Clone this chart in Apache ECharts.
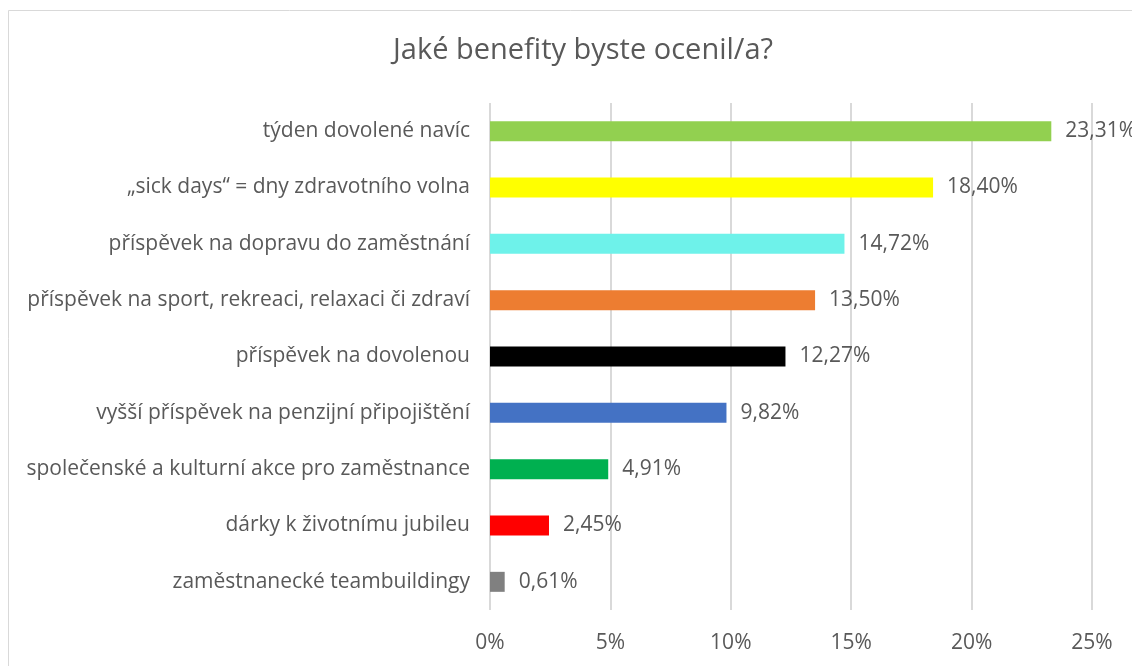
<!DOCTYPE html>
<html>
<head>
<meta charset="utf-8">
<script src="https://cdn.jsdelivr.net/npm/echarts@6/dist/echarts.min.js"></script>
<style>
  html, body { margin: 0; padding: 0; background: #fff; }
  #chart { width: 1132px; height: 666px; }
</style>
</head>
<body>
<div id="chart"></div>
<script>
var categories = [
  'týden dovolené navíc',
  '„sick days“ = dny zdravotního volna',
  'příspěvek na dopravu do zaměstnání',
  'příspěvek na sport, rekreaci, relaxaci či zdraví',
  'příspěvek na dovolenou',
  'vyšší příspěvek na penzijní připojištění',
  'společenské a kulturní akce pro zaměstnance',
  'dárky k životnímu jubileu',
  'zaměstnanecké teambuildingy'
];
var values = [23.31, 18.40, 14.72, 13.50, 12.27, 9.82, 4.91, 2.45, 0.61];
var barColors = ['#92D050', '#FFFF00', '#6EF2EA', '#ED7D31', '#000000', '#4472C4', '#00B050', '#FF0000', '#808080'];
var ticks = [0, 5, 10, 15, 20, 25];

var myChart = echarts.init(document.getElementById('chart'));

var fontFam = '"Open Sans", "DejaVu Sans", sans-serif';

var option = {
  backgroundColor: '#fff',
  animation: false,
  graphic: [{
    type: 'rect',
    shape: { x: 8.5, y: 10.5, width: 1140, height: 700 },
    style: { fill: 'none', stroke: '#d9d9d9', lineWidth: 1 }
  }],
  title: {
    text: 'Jaké benefity byste ocenil/a?',
    left: 388,
    top: 31,
    textStyle: { color: '#595959', fontSize: 29, fontWeight: 'normal', fontFamily: fontFam }
  },
  grid: { left: 490, right: 40, top: 103, bottom: 56, containLabel: false },
  xAxis: {
    type: 'value',
    min: ticks[0],
    max: ticks[ticks.length - 1],
    interval: 5,
    axisLine: { show: false },
    axisTick: { show: false },
    splitLine: { show: true, lineStyle: { color: '#d9d9d9', width: 2 } },
    axisLabel: {
      margin: 23,
      color: '#595959',
      fontSize: 21,
      fontFamily: fontFam,
      formatter: function (v) { return v + '%'; }
    }
  },
  yAxis: {
    type: 'category',
    inverse: true,
    data: categories,
    axisLine: { show: false },
    axisTick: { show: false },
    axisLabel: { margin: 20, color: '#595959', fontSize: 21, fontFamily: fontFam }
  },
  series: [{
    type: 'bar',
    barWidth: 20,
    data: values.map(function (v, i) {
      return { value: v, itemStyle: { color: barColors[i] } };
    }),
    label: {
      show: true,
      position: 'right',
      distance: 14,
      color: '#595959',
      fontSize: 21,
      fontFamily: fontFam,
      formatter: function (p) { return p.value.toFixed(2).replace('.', ',') + '%'; }
    }
  }]
};

myChart.setOption(option);
</script>
</body>
</html>
